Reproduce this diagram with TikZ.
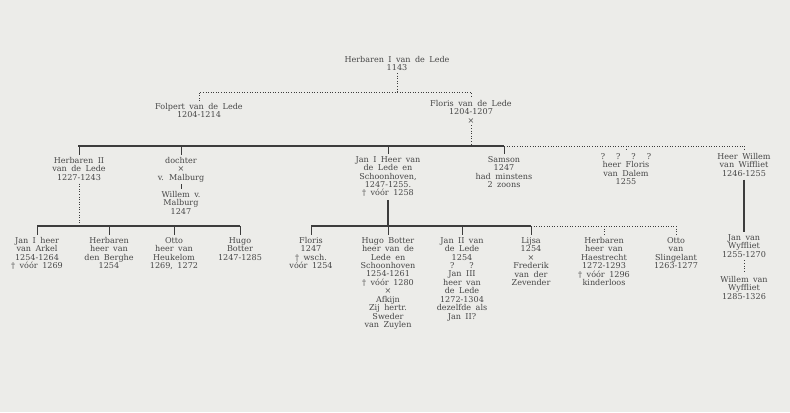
\documentclass[tikz,border=0pt]{standalone}
\usepackage{fontspec}
\setmainfont{DejaVu Serif}
\usetikzlibrary{calc}
\definecolor{paper}{RGB}{236,236,233}
\definecolor{ink}{RGB}{70,70,70}
\definecolor{rule}{RGB}{60,60,60}
\begin{document}
\begin{tikzpicture}[x=1bp,y=-1bp,
 font={\fontsize{8.1}{8.5}\selectfont\spaceskip=0.55em\relax},
 pn/.style={align=center,anchor=north,inner sep=0pt,text=ink},
 bar/.style={draw=rule,line width=1.3pt},
 stem/.style={draw=rule,line width=1.7pt},
 tick/.style={draw=rule,line width=0.9pt},
 dots/.style={draw=rule,dotted,line width=0.6pt}]
\useasboundingbox (0,0) rectangle (790,412);
\fill[paper] (0,0) rectangle (790,412);
\node[pn] (h1) at (397,56) {Herbaren I van de Lede\\1143};
\node[pn] (fo) at (199,103) {Folpert van de Lede\\1204-1214};
\node[pn] (fl) at (471,100) {Floris van de Lede\\1204-1207\\×};
\coordinate (j0) at (397,92);
\draw[dots,shorten <=2pt] (h1.south) -- (j0);
\draw[dots,shorten <=2pt,shorten >=2pt] (fo.north) |- (j0) -| (fl.north);
\coordinate (b2l) at (78,146);
\coordinate (b2m) at (504,146);
\coordinate (b2r) at (744,146);
\draw[dots,shorten <=2pt] (fl.south) -- (fl.south |- b2m);
\draw[bar] (b2l) -- (b2m);
\draw[dots] (b2m) -- (b2r);
\node[pn] (h2) at (79,157) {Herbaren II\\van de Lede\\1227-1243};
\node[pn] (do) at (181,157) {dochter\\×\\v. Malburg};
\node[pn] (wm) at (181,191) {Willem v.\\Malburg\\1247};
\node[pn] (j1) at (388,156) {Jan I Heer van\\de Lede en\\Schoonhoven,\\1247-1255.\\\dag{} vóór 1258};
\node[pn] (sa) at (504,156) {Samson\\1247\\had minstens\\2 zoons};
\node[pn] (fd) at (626,153) {?\hspace{11pt}?\hspace{11pt}?\hspace{11pt}?\\heer Floris\\van Dalem\\1255};
\node[pn] (hw) at (744,153) {Heer Willem\\van Wiffliet\\1246-1255};
\foreach \n in {h2,do,j1,sa}
  \draw[tick,shorten >=2pt] (\n.north |- b2l) -- (\n.north);
\foreach \n in {fd,hw}
  \draw[dots,shorten >=2pt] (\n.north |- b2l) -- (\n.north);
\draw[tick,shorten <=2pt,shorten >=2pt] (do.south) -- (wm.north);
\coordinate (b3) at (0,226);
\node[pn] (ja) at (37,237) {Jan I heer\\van Arkel\\1254-1264\\\dag{} vóór 1269};
\node[pn] (hb) at (109,237) {Herbaren\\heer van\\den Berghe\\1254};
\node[pn] (ot) at (174,237) {Otto\\heer van\\Heukelom\\1269, 1272};
\node[pn] (hu) at (240,237) {Hugo\\Botter\\1247-1285};
\draw[dots,shorten <=3pt] (h2.south) -- (h2.south |- b3);
\draw[bar] (ja.north |- b3) -- (hu.north |- b3);
\foreach \n in {ja,hb,ot,hu}
  \draw[tick,shorten >=2pt] (\n.north |- b3) -- (\n.north);
\node[pn] (fs) at (311,237) {Floris\\1247\\\dag{} wsch.\\vóór 1254};
\node[pn] (hbo) at (388,237) {Hugo Botter\\heer van de\\Lede en\\Schoonhoven\\1254-1261\\\dag{} vóór 1280\\×\\Afkijn\\Zij hertr.\\Sweder\\van Zuylen};
\node[pn] (j2) at (462,237) {Jan II van\\de Lede\\1254\\?\hspace{15pt}?\\Jan III\\heer van\\de Lede\\1272-1304\\dezelfde als\\Jan II?};
\node[pn] (li) at (531,237) {Lijsa\\1254\\×\\Frederik\\van der\\Zevender};
\node[pn] (hh) at (604,237) {Herbaren\\heer van\\Haestrecht\\1272-1293\\\dag{} vóór 1296\\kinderloos};
\node[pn] (os) at (676,237) {Otto\\van\\Slingelant\\1263-1277};
\draw[stem,shorten <=3pt] (j1.south) -- (j1.south |- b3);
\draw[bar] (fs.north |- b3) -- (li.north |- b3);
\draw[dots] (li.north |- b3) -- (os.north |- b3);
\foreach \n in {fs,hbo,j2,li}
  \draw[tick,shorten >=2pt] (\n.north |- b3) -- (\n.north);
\foreach \n in {hh,os}
  \draw[dots,shorten >=2pt] (\n.north |- b3) -- (\n.north);
\node[pn] (jw) at (744,234) {Jan van\\Wyffliet\\1255-1270};
\node[pn] (ww) at (744,276) {Willem van\\Wyffliet\\1285-1326};
\draw[stem,shorten <=3pt,shorten >=2pt] (hw.south) -- (jw.north);
\draw[dots,shorten <=3pt,shorten >=3pt] (jw.south) -- (ww.north);
\end{tikzpicture}
\end{document}
